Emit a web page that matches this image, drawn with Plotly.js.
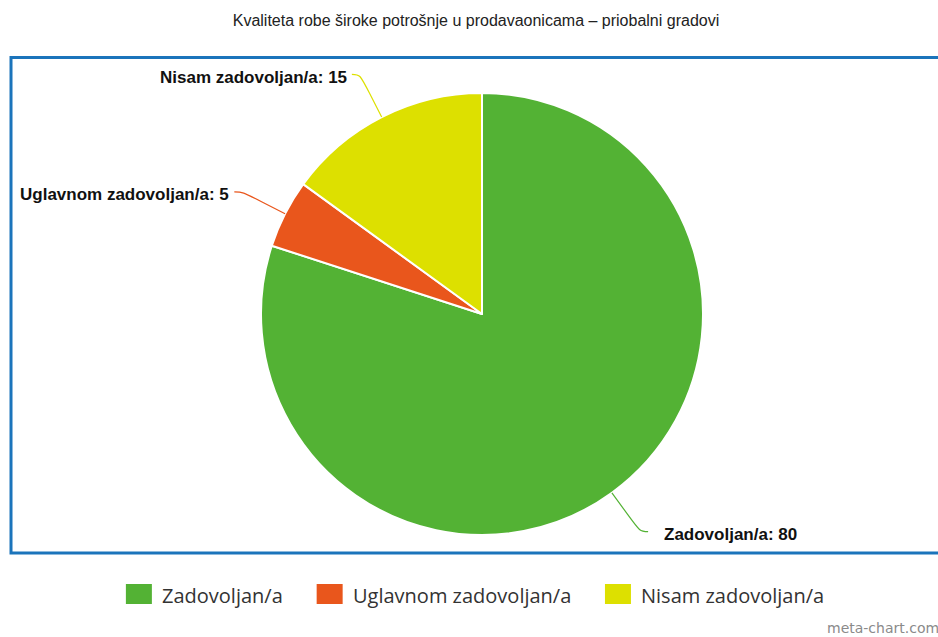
<!DOCTYPE html>
<html><head><meta charset="utf-8">
<script src="https://cdn.plot.ly/plotly-3.0.1.min.js"></script>
<style>body{margin:0;background:#fff}#chart{width:938px;height:637px}</style>
</head><body><div id="chart"></div>
<script>
const categories = ['Zadovoljan/a', 'Uglavnom zadovoljan/a', 'Nisam zadovoljan/a'];
const values = [80, 5, 15];
const colors = ['#53b234', '#e9561c', '#dde000'];
const titleText = 'Kvaliteta robe široke potrošnje u prodavaonicama – priobalni gradovi';
const watermark = 'meta-chart.com';

const W = 938, H = 637;
const cx = 482, cy = 314, R = 221;
const labelDist = 48;
const px = x => x / W, py = y => 1 - y / H;

const total = values.reduce((a, b) => a + b, 0);
let cum = 0;
const annotations = [], shapes = [];

// border frame
shapes.push({type: 'rect', xref: 'paper', yref: 'paper', x0: px(11), x1: px(948), y0: py(57.5), y1: py(553),
  line: {color: '#1b74bb', width: 3}, layer: 'below'});

values.forEach((v, i) => {
  const mid = (cum + v / 2) / total * 2 * Math.PI; cum += v;
  const sx = Math.sin(mid), sy = -Math.cos(mid);
  const s = sx >= 0 ? 1 : -1;
  const p0 = [cx + R * sx, cy + R * sy];
  const pm = [cx + (R + labelDist * 0.55) * sx, cy + (R + labelDist * 0.55) * sy];
  const pb = [cx + (R + labelDist) * sx, cy + (R + labelDist) * sy];
  const pe = [pb[0] + s * 8, pb[1]];
  const path = `M${px(p0[0])},${py(p0[1])} L${px(pm[0])},${py(pm[1])} C${px(pb[0])},${py(pb[1])} ${px(pb[0])},${py(pb[1])} ${px(pe[0])},${py(pe[1])}`;
  shapes.push({type: 'path', xref: 'paper', yref: 'paper', path: path, line: {color: colors[i], width: 1.2}});
  const gap = s > 0 ? 14 : 3;
  annotations.push({xref: 'paper', yref: 'paper', x: px(pe[0] + s * gap), y: py(pe[1] + 3),
    xanchor: s > 0 ? 'left' : 'right', yanchor: 'middle', showarrow: false,
    text: '<b>' + categories[i] + ': ' + values[i] + '</b>',
    font: {family: 'Liberation Sans, Arial, sans-serif', size: 17, color: '#111'}});
});

// manual legend (large swatches)
const legFont = 'Open Sans';
const legSize = 20;
const ctx = document.createElement('canvas').getContext('2d');
ctx.font = legSize + 'px "' + legFont + '"';
const sw = 26, sh = 20, gapText = 8, gapItem = 36;
const widths = categories.map(c => ctx.measureText(c).width);
const totalW = widths.reduce((a, w) => a + sw + gapText + w, 0) + gapItem * (categories.length - 1);
let lx = 474 - totalW / 2;
const ly = 594;
categories.forEach((c, i) => {
  shapes.push({type: 'rect', xref: 'paper', yref: 'paper', x0: px(lx), x1: px(lx + sw), y0: py(ly - sh / 2), y1: py(ly + sh / 2),
    fillcolor: colors[i], line: {width: 0}});
  annotations.push({xref: 'paper', yref: 'paper', x: px(lx + sw + gapText), y: py(ly + 1), xanchor: 'left', yanchor: 'middle',
    showarrow: false, text: c, font: {family: legFont, size: legSize, color: '#333'}});
  lx += sw + gapText + widths[i] + gapItem;
});

annotations.push({xref: 'paper', yref: 'paper', x: px(941), y: py(628), xanchor: 'right', yanchor: 'middle',
  showarrow: false, text: watermark, font: {family: 'DejaVu Sans, sans-serif', size: 14, color: '#8a8a8a'}});

const trace = {
  type: 'pie', values: values, labels: categories, sort: false, direction: 'clockwise', rotation: 0,
  marker: {colors: colors, line: {color: '#ffffff', width: 2}},
  textinfo: 'none', showlegend: false,
  domain: {x: [px(cx - R), px(cx + R)], y: [py(cy + R), py(cy - R)]}
};

const layout = {
  width: W, height: H, margin: {l: 0, r: 0, t: 0, b: 0},
  paper_bgcolor: '#fff',
  title: {text: titleText, x: 476 / W, xanchor: 'center', y: 1 - 20 / H, yanchor: 'middle',
    font: {family: 'Liberation Sans, Arial, sans-serif', size: 16, color: '#222'}},
  shapes: shapes, annotations: annotations, showlegend: false
};
Plotly.newPlot('chart', [trace], layout, {displayModeBar: false, staticPlot: true});
</script></body></html>
